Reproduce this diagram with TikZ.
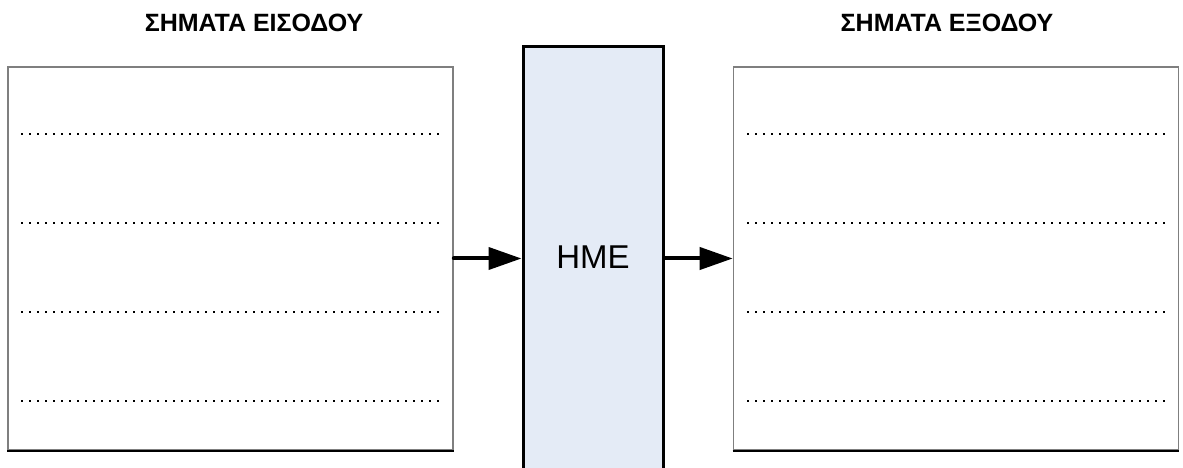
\documentclass[tikz,border=0pt]{standalone}
\usepackage{fontspec}
\setmainfont{Liberation Sans}
\usetikzlibrary{arrows.meta}
\definecolor{boxgray}{HTML}{7F7F7F}
\definecolor{hmefill}{HTML}{E4EBF6}
\tikzset{
  sigbox/.style={draw=boxgray, line width=1.6pt, fill=white, minimum width=445pt, minimum height=383pt, inner sep=0pt},
  hmebox/.style={draw=black, line width=3pt, fill=hmefill, minimum width=140pt, minimum height=441pt, inner sep=0pt},
  title/.style={font=\bfseries\fontsize{25}{29}\selectfont, inner sep=0pt},
  dots/.style={line width=2.4pt, dash pattern=on 2.4pt off 5.6pt, black},
  flow/.style={line width=4pt, line cap=round, -{Triangle[length=33pt 0 0,width=22pt 0 0]}}
}
\begin{document}
\begin{tikzpicture}[x=1pt,y=1pt]
\useasboundingbox (0,0) rectangle (1183,468);
\clip (0,0) rectangle (1183,468);
% titles
\node[title] (tin) at (254,445) {ΣΗΜΑΤΑ ΕΙΣΟΔΟΥ};
\node[title] (tout) at (947,445) {ΣΗΜΑΤΑ ΕΞΟΔΟΥ};
% boxes
\node[sigbox] (L) at (230.5,209.5) {};
\node[sigbox] (R) at (956,209.5) {};
\draw[line width=1.6pt] (L.south west) -- (L.south east);
\draw[line width=1.6pt] (R.south west) -- (R.south east);
\node[hmebox] (H) at (593,200.5) {};
\node[font=\fontsize{33}{38}\selectfont, inner sep=0pt] (Ht) at (593,211) {HME};
% dotted lines
\foreach \y [count=\i] in {334,245,156,67}{
  \coordinate (la\i) at (21,\y);
  \coordinate (lb\i) at (442,\y);
  \coordinate (ra\i) at (747,\y);
  \coordinate (rb\i) at (1168,\y);
  \draw[dots] (la\i) -- (lb\i);
  \draw[dots] (ra\i) -- (rb\i);
}
% arrows
\draw[flow] (L.east) -- (L.east -| H.west);
\draw[flow] (L.east -| H.east) -- (R.west);
\end{tikzpicture}
\end{document}
